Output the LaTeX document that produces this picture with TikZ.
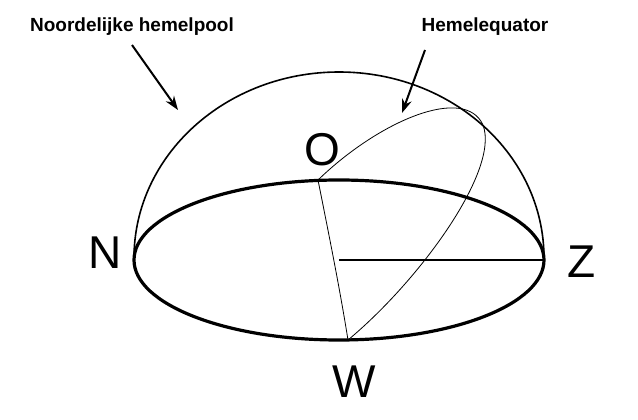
\documentclass[tikz,border=0pt]{standalone}
\usepackage{fontspec}
\setmainfont{Liberation Sans}
\usetikzlibrary{arrows.meta}
\tikzset{
  dir/.style={font=\fontsize{46}{46}\selectfont},
  lbl/.style={font=\bfseries\fontsize{19}{19}\selectfont},
  pijl/.style={line width=2pt,-{Stealth[length=14pt,width=10pt]}}
}
\begin{document}
\begin{tikzpicture}[x=1pt,y=-1pt]
    \useasboundingbox[fill=white] (0,0) rectangle (638,420);
    % Koepel en horizon
    \draw[line width=1.6pt] (134,258) arc[start angle=180,end angle=360,x radius=205,y radius=186];
    \draw[line width=3.2pt] (339,260) ellipse[x radius=205,y radius=80];
    \coordinate (M) at (339,260);
    \coordinate (O) at (318,180);
    \coordinate (W) at (348,340);
    \coordinate (Zp) at (544,260);
    \draw[line width=2.8pt] (M) -- (Zp);
    % Meridiaan en hemelequator
    \draw[line width=0.8pt] (O) .. controls (330,240) and (340,290) .. (W);
    \draw[line width=0.8pt] (O) .. controls (380,120) and (465,85) .. (483,125)
        .. controls (500,170) and (420,280) .. (W);
    % Windrichtingen
    \node[dir] (N) at (105,253) {N};
    \node[dir] (Z) at (582,262) {Z};
    \node[dir] (Ol) at (322,150) {O};
    \node[dir] (Wl) at (354,382) {W};
    % Labels met pijlen
    \node[lbl] (pool) at (132,27) {Noordelijke hemelpool};
    \node[lbl] (eq) at (485,27) {Hemelequator};
    \coordinate (poolp) at (178,110);
    \coordinate (eqp) at (402,113);
    \draw[pijl] (132,45) -- (poolp);
    \draw[pijl] (425,50) -- (eqp);
\end{tikzpicture}
\end{document}
